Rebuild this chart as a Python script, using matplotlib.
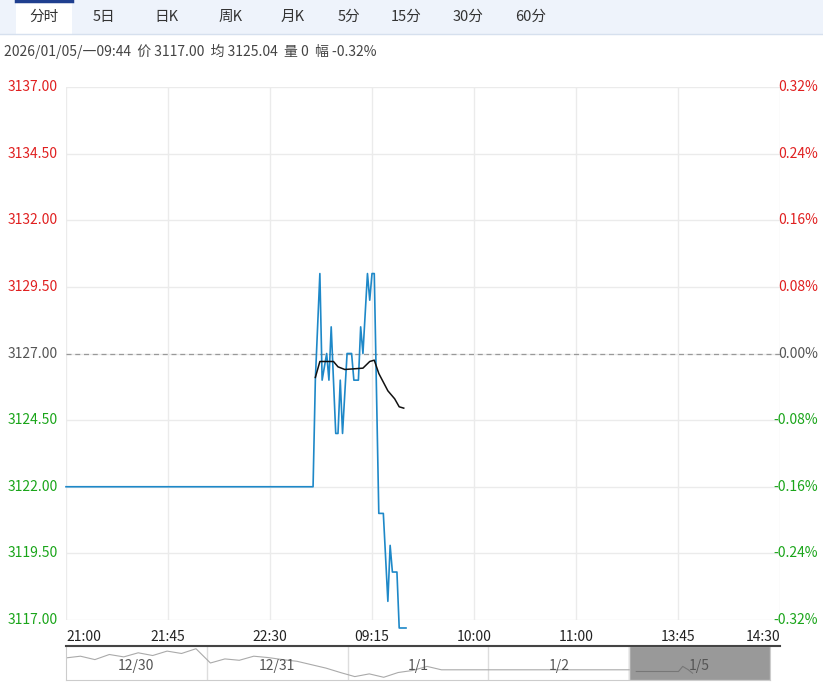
import matplotlib
matplotlib.use("Agg")
import matplotlib.pyplot as plt
import matplotlib.patches as patches

plt.rcParams["font.family"] = ["Noto Sans CJK SC", "DejaVu Sans"]

W, H = 823, 686
PREV_CLOSE = 3127.0

# minute index from 21:00 (night session, then day session)
price_x = [0, 109, 110, 112, 113, 115, 116, 117, 119, 120, 121, 122, 124, 126, 127, 129,
           130, 131, 133, 134, 135, 136, 138, 140, 142, 143, 144, 146, 147, 150]
price_y = [3122, 3122, 3126, 3130, 3126, 3127, 3126, 3128, 3124, 3124, 3126, 3124, 3127, 3127, 3126, 3126,
           3128, 3127, 3130, 3129, 3130, 3130, 3121, 3121, 3117.7, 3119.8, 3118.8, 3118.8, 3116.7, 3116.7]
avg_x = [110, 112, 115, 118, 120, 123, 131, 134, 136, 138, 142, 145, 147, 149]
avg_y = [3126.1, 3126.7, 3126.7, 3126.7, 3126.5, 3126.4, 3126.45, 3126.7, 3126.75, 3126.25,
         3125.6, 3125.3, 3125.0, 3124.95]

y_ticks = [3137.00, 3134.50, 3132.00, 3129.50, 3127.00, 3124.50, 3122.00, 3119.50, 3117.00]
pct_labels = ["0.32%", "0.24%", "0.16%", "0.08%", "0.00%", "-0.08%", "-0.16%", "-0.24%", "-0.32%"]
time_labels = ["21:00", "21:45", "22:30", "09:15", "10:00", "11:00", "13:45", "14:30"]
tabs = ["分时", "5日", "日K", "周K", "月K", "5分", "15分", "30分", "60分"]
tab_x = [44, 104, 166, 231, 293, 349, 406, 468, 531]
nav_days = ["12/30", "12/31", "1/1", "1/2", "1/5"]
# rough overview line of the sessions (values read approx., normalised 0..1)
nav_line = [0.65, 0.7, 0.6, 0.75, 0.68, 0.8, 0.72, 0.85, 0.78, 0.92, 0.5, 0.62, 0.58, 0.7, 0.66,
            0.6, 0.55, 0.45, 0.35, 0.22, 0.1, 0.18, 0.08, 0.22, 0.28, 0.4, 0.3, 0.3, 0.3, 0.3, 0.3,
            0.3, 0.3, 0.3, 0.3, 0.3, 0.3, 0.3, 0.3, 0.3]

RED, GREEN, GRAY = "#e02020", "#1aa51a", "#555555"

fig = plt.figure(figsize=(W / 100, H / 100), dpi=100)

bg = fig.add_axes([0, 0, 1, 1])
bg.set_xlim(0, W)
bg.set_ylim(H, 0)
bg.axis("off")

# main chart
top, bot = 87, 620
ymin, ymax = 3117.0, 3137.0
ax = fig.add_axes([66 / W, 1 - bot / H, (780 - 66) / W, (bot - top) / H])
ax.patch.set_visible(False)
ax.set_xlim(0, 315)
ax.set_ylim(ymin, ymax)
ax.set_xticks(range(0, 316, 45))
ax.set_yticks(y_ticks)
ax.grid(True, color="#ebebeb", lw=1)
ax.tick_params(length=0, labelleft=False, labelbottom=False)
for s in ax.spines.values():
    s.set_visible(False)
ax.axhline(PREV_CLOSE, color="#999999", lw=0.9, ls=(0, (4, 3)))
ax.plot(price_x, price_y, color="#1e88c8", lw=1.2, clip_on=False)
ax.plot(avg_x, avg_y, color="#111111", lw=1.1)

# navigator
nav = fig.add_axes([66 / W, 1 - 680 / H, (770 - 66) / W, 34 / H])
nav.set_xlim(0, 5)
nav.set_ylim(0, 1)
nav.set_xticks([])
nav.set_yticks([])
for s in nav.spines.values():
    s.set_color("#cccccc")
for i in range(1, 5):
    nav.axvline(i, color="#dddddd", lw=1)
nxs = [k * 4.0 / (len(nav_line) - 1) for k in range(len(nav_line))]
nav.plot(nxs, nav_line, color="#aaaaaa", lw=0.8)
nav.add_patch(patches.Rectangle((4.0, 0), 1.0, 1, facecolor="#999999", edgecolor="#bbbbbb"))
nav.plot([4.05, 4.35, 4.38, 4.42, 4.45], [0.25, 0.25, 0.4, 0.3, 0.2], color="#777777", lw=0.8)
for i, d in enumerate(nav_days):
    nav.text(i + 0.5, 0.4, d, ha="center", va="center", fontsize=10, color="#555555")

# overlay texts on top of everything
ov = fig.add_axes([0, 0, 1, 1])
ov.set_xlim(0, W)
ov.set_ylim(H, 0)
ov.axis("off")
ov.add_patch(patches.Rectangle((0, 0), W, 34, facecolor="#eef3fb", edgecolor="none"))
ov.add_patch(patches.Rectangle((16, 0), 56, 35, facecolor="white", edgecolor="none"))
ov.plot([16, 72], [1, 1], color="#1f3f8f", lw=2.5)
ov.plot([0, W], [34, 34], color="#d6e0ee", lw=1)
for t, x in zip(tabs, tab_x):
    ov.text(x, 17, t, ha="center", va="center", fontsize=10.5, color="#333333")
ov.text(4, 51, "2026/01/05/一09:44  价 3117.00  均 3125.04  量 0  幅 -0.32%",
        ha="left", va="center", fontsize=10, color="#444444")
for v, p in zip(y_ticks, pct_labels):
    py = top + (ymax - v) / (ymax - ymin) * (bot - top)
    c = RED if v > PREV_CLOSE else (GREEN if v < PREV_CLOSE else GRAY)
    ov.text(8, py, f"{v:.2f}", ha="left", va="center", fontsize=10, color=c)
    ov.text(818, py, p, ha="right", va="center", fontsize=10, color=c)
for i, t in enumerate(time_labels):
    px = 66 + i * 102
    ha = "left" if i == 0 else ("right" if i == len(time_labels) - 1 else "center")
    ov.text(px, 637, t, ha=ha, va="center", fontsize=10, color="#222222")
ov.plot([66, 780], [645.5, 645.5], color="#444444", lw=1.5)

fig.savefig("out.png", dpi=100)
